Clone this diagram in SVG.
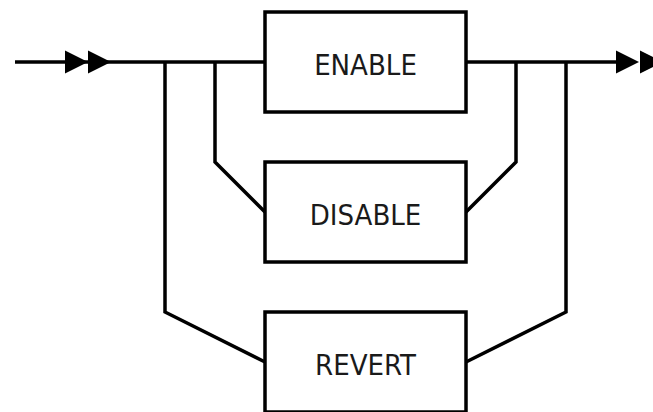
<svg xmlns="http://www.w3.org/2000/svg" width="653" height="412" viewBox="0 0 653 412">
  <style>
    .box { fill: #ffffff; stroke: #000000; stroke-width: 3.5; }
    .label { font-family: "DejaVu Sans Condensed", "DejaVu Sans", sans-serif; font-stretch: condensed; font-size: 29px; fill: #1a1a1a; text-anchor: middle; }
    .wire { fill: none; stroke: #000000; stroke-width: 3.5; stroke-linejoin: miter; }
    .head { fill: #000000; }
  </style>
  <rect width="653" height="412" fill="#ffffff"/>

  <!-- railroad wires -->
  <g id="connectors">
    <path class="wire" d="M15 62 H265"/>
    <path class="wire" d="M215 62 V162 L265 212"/>
    <path class="wire" d="M165 62 V312 L265 362"/>
    <path class="wire" d="M466 62 H620"/>
    <path class="wire" d="M516 62 V162 L466 212"/>
    <path class="wire" d="M566 62 V312 L466 362"/>
    <!-- entry double arrow -->
    <polygon class="head" points="65,50.5 88,62 65,73.5"/>
    <polygon class="head" points="88,50.5 111,62 88,73.5"/>
    <!-- exit double arrow -->
    <polygon class="head" points="616,50.5 639,62 616,73.5"/>
    <polygon class="head" points="640,50.5 663,62 640,73.5"/>
  </g>

  <g id="enable">
    <rect class="box" x="265" y="12" width="201" height="100"/>
    <text class="label" x="365.5" y="75">ENABLE</text>
  </g>
  <g id="disable">
    <rect class="box" x="265" y="162" width="201" height="100"/>
    <text class="label" x="365.5" y="225">DISABLE</text>
  </g>
  <g id="revert">
    <rect class="box" x="265" y="312" width="201" height="100"/>
    <text class="label" x="365.5" y="375">REVERT</text>
  </g>
</svg>
